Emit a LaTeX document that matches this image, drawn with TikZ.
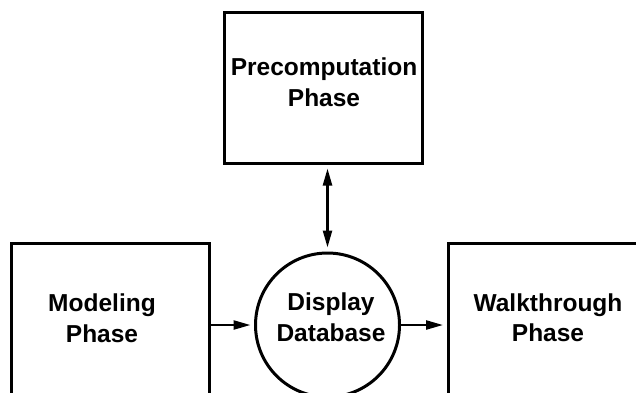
\documentclass[tikz,border=0pt]{standalone}
\usepackage{fontspec}
\setmainfont{Liberation Sans}
\usetikzlibrary{arrows.meta}

\tikzset{
  phasebox/.style={draw, line width=3pt, minimum width=198pt, minimum height=151pt, inner sep=0pt},
  storecircle/.style={draw, circle, line width=3pt, minimum size=144pt, inner sep=0pt},
  phasetext/.style={align=center, inner sep=0pt, font=\bfseries\fontsize{24.5}{30.5}\selectfont},
  flow/.style={line width=2.4pt, -{Triangle[length=17pt, width=9pt]}},
  bothflow/.style={line width=2.4pt, {Triangle[length=17pt, width=9pt]}-{Triangle[length=17pt, width=9pt]}}
}

\begin{document}
\begin{tikzpicture}[x=1pt, y=-1pt]
  \useasboundingbox (0,0) rectangle (636,392);
  \clip (0,0) rectangle (636,392);

  % frames of the three phases and the shared database
  \node[phasebox] (pre) at (323,87.5) {};
  \node[phasebox] (mod) at (110,318.5) {};
  \node[phasebox] (walk) at (547,318.5) {};
  \node[storecircle] (db) at (327.5,325) {};

  % labels
  \node[phasetext] (pretext) at (324,82) {Precomputation\\Phase};
  \node[phasetext] (modtext) at (102,318) {Modeling\\Phase};
  \node[phasetext] (walktext) at (548,317.5) {Walkthrough\\Phase};
  \node[phasetext] (dbtext) at (331,317) {Display\\Database};

  % data flow
  \draw[flow, shorten >=3.5pt] (db.west -| mod.east) -- (db.west);
  \draw[flow, shorten >=3.5pt] (db.east) -- (db.east -| walk.west);
  \draw[bothflow, shorten <=4pt, shorten >=4pt] (db.north |- pre.south) -- (db.north);
\end{tikzpicture}
\end{document}
